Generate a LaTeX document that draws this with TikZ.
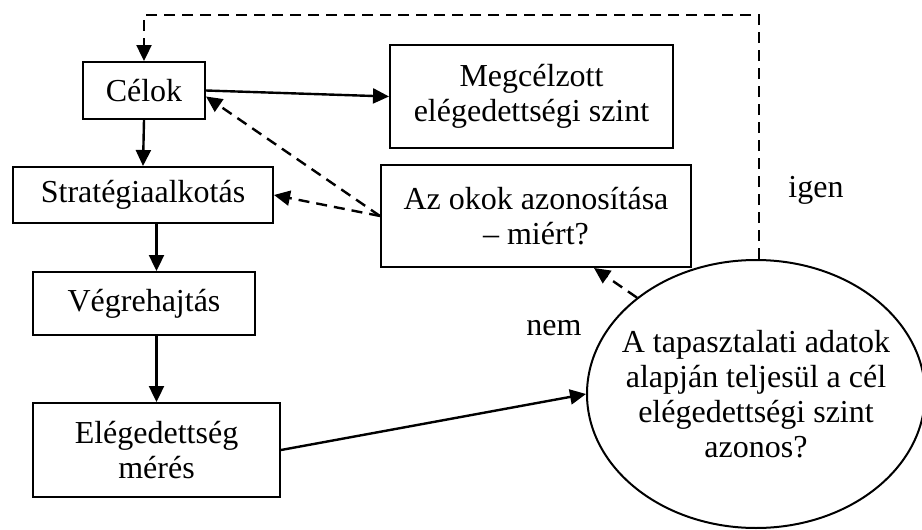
\documentclass[tikz,border=0pt]{standalone}
\usepackage{fontspec}
\setmainfont{Liberation Serif}
\usetikzlibrary{arrows.meta,shapes.geometric}
\begin{document}
\begin{tikzpicture}[x=1pt,y=-1pt,
  every node/.style={font=\fontsize{32}{35}\selectfont},
  box/.style={draw,line width=2pt,rectangle,inner sep=0pt,align=center},
  decision/.style={draw,line width=2pt,ellipse,inner sep=0pt,
    minimum width=338pt,minimum height=268pt},
  flow/.style={line width=2.4pt,-{Triangle[length=16pt,width=15pt]}},
  back/.style={flow,dash pattern=on 11pt off 7pt},
  lbl/.style={inner sep=0pt,align=center}]
\useasboundingbox (0,0) rectangle (922,530);

% process steps
\node[box,minimum width=122pt,minimum height=57pt] (celok) at (144,90.5) {Célok};
\node[box,minimum width=260pt,minimum height=56pt] (strat) at (143,195) {Stratégiaalkotás};
\node[box,minimum width=222pt,minimum height=63pt] (vegre) at (144,303.5) {Végrehajtás};
\node[box,minimum width=247pt,minimum height=94pt] (eleg) at (156.5,450) {Elégedettség\\mérés};
\node[box,minimum width=283pt,minimum height=103pt] (megc) at (531.5,96.5) {Megcélzott\\elégedettségi szint};
\node[box,minimum width=310pt,minimum height=102pt] (okok) at (536,216) {Az okok azonosítása\\– miért?};

% decision ellipse and its question
\node[decision] (dont) at (756,394) {};
\node[lbl] (dontq) at (dont.center) {A tapasztalati adatok\\alapján teljesül a cél\\elégedettségi szint\\azonos?};

% branch labels
\node[lbl] (igen) at (816,190) {igen};
\node[lbl] (nem) at (554,328) {nem};

% main flow
\draw[flow] (celok.east) -- (megc.west);
\draw[flow] (celok.south) -- (strat.north);
\draw[flow] (strat.south -| eleg.north) -- (vegre.north -| eleg.north);
\draw[flow] (vegre.south -| eleg.north) -- (eleg.north);
\draw[flow] (eleg.east) -- (dont.west);

% feedback paths
\draw[back] (okok.west) -- ([yshift=-6pt]celok.east);
\draw[back] (okok.west) -- (strat.east);
\draw[back] (dont.141) -- ([xshift=58pt]okok.south);
\coordinate (top) at ([xshift=3pt]dont.north);
\draw[back] (top) -- (top |- 0,15) -| (celok.north);
\end{tikzpicture}
\end{document}
